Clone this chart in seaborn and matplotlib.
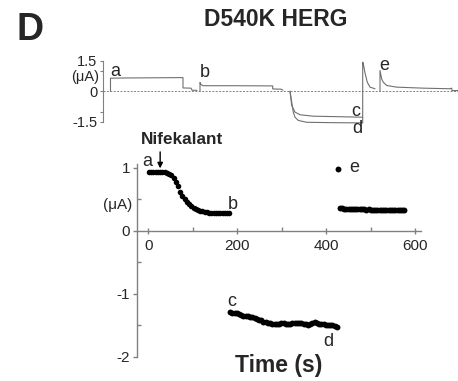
import matplotlib
matplotlib.use("Agg")
import matplotlib.pyplot as plt
import seaborn as sns
import numpy as np

sns.set_style("white")
plt.rcParams['font.family'] = ['Liberation Sans', 'DejaVu Sans']

# ---------------- data: time course (bottom panel) ----------------
seg1_t = [2, 7, 12, 17, 22, 27, 32, 37, 42, 47, 52, 57, 62, 67, 72, 77, 82, 87, 92, 97,
          102, 107, 112, 117, 122, 127, 132, 137, 142, 147, 152, 157, 162, 167, 172, 177, 182]
seg1_i = [0.93, 0.93, 0.93, 0.93, 0.93, 0.93, 0.93, 0.93, 0.92, 0.91, 0.89, 0.84, 0.77, 0.71,
          0.62, 0.55, 0.50, 0.46, 0.42, 0.395, 0.37, 0.35, 0.335, 0.32, 0.31, 0.30, 0.295,
          0.29, 0.287, 0.285, 0.283, 0.28, 0.28, 0.28, 0.278, 0.278, 0.278]

seg2_t = [184, 189, 194, 199, 204, 209, 214, 219, 224, 229, 234, 239, 244, 249, 254, 259,
          264, 269, 274, 279, 284, 289, 294, 299, 304, 309, 314, 319, 324, 329, 334, 339,
          344, 349, 354, 359, 364, 369, 374, 379, 384, 389, 394, 399, 404, 409, 414, 419, 424]
seg2_i = [-1.29, -1.30, -1.30, -1.31, -1.32, -1.33, -1.345, -1.35, -1.36, -1.37, -1.375,
          -1.39, -1.40, -1.41, -1.42, -1.44, -1.45, -1.465, -1.47, -1.48, -1.48, -1.475,
          -1.48, -1.47, -1.47, -1.48, -1.48, -1.475, -1.47, -1.465, -1.47, -1.47, -1.47,
          -1.48, -1.48, -1.49, -1.48, -1.47, -1.45, -1.46, -1.48, -1.48, -1.48, -1.49,
          -1.49, -1.50, -1.50, -1.51, -1.53]

seg3_t = [426, 430, 435, 440, 445, 450, 455, 460, 465, 470, 475, 480, 485, 490, 495, 500,
          505, 510, 515, 520, 525, 530, 535, 540, 545, 550, 555, 560, 565, 570, 575]
seg3_i = [0.98, 0.36, 0.36, 0.355, 0.355, 0.35, 0.35, 0.35, 0.35, 0.345, 0.345, 0.345, 0.345,
          0.34, 0.345, 0.34, 0.34, 0.34, 0.34, 0.335, 0.335, 0.335, 0.335, 0.335, 0.33,
          0.33, 0.33, 0.325, 0.33, 0.325, 0.325]

x_ticks = [0, 200, 400, 600]
y_ticks = [1, 0, -1, -2]

# ---------------- data: current traces (top panel) ----------------
trace_a_t = [7.5, 7.5, 20, 50, 80, 80, 88, 89, 94]
trace_a_i = [0, 0.64, 0.65, 0.66, 0.67, 0.16, 0.15, 0.05, 0.04]
trace_b_t = [97, 97, 98, 100, 130, 169.7, 169.7, 178, 180]
trace_b_i = [0, 0.43, 0.33, 0.27, 0.27, 0.26, 0.11, 0.10, 0.05]
trace_c_t = [187, 188.7, 192, 197, 210, 240, 259.7]
trace_c_i = [0, -0.70, -1.03, -1.16, -1.23, -1.26, -1.28]
trace_d_t = [187, 190.3, 192, 195.3, 203.7, 230, 259.7, 259.7, 260.3, 262, 264.3, 267, 272]
trace_d_i = [0, -1.03, -1.28, -1.44, -1.53, -1.55, -1.56, 1.43, 1.35, 0.90, 0.44, 0.20, 0.12]
trace_e_t = [277, 277, 278.7, 280.3, 283.7, 293.7, 320, 347, 348.7, 349, 355]
trace_e_i = [0, 1.02, 0.60, 0.44, 0.28, 0.20, 0.15, 0.12, 0.15, 0.03, 0.03]
top_yticks = [1.5, 0, -1.5]

W, H = 458, 381
fig = plt.figure(figsize=(W / 100, H / 100), dpi=100)

axis_gray = "#808080"
trace_gray = "#707070"

# ---------------- top panel (drawn first, transparent) ----------------
ax2 = fig.add_axes([103 / W, (H - 123.7) / H, 355 / W, 65 / H])
ax2.patch.set_alpha(0)
ax2.set_xlim(0, 355)
ax2.set_ylim(-1.6, 1.6)
for s in ["top", "right", "bottom"]:
    ax2.spines[s].set_visible(False)
ax2.spines["left"].set_bounds(-1.5, 1.5)
ax2.spines["left"].set_color(axis_gray)
ax2.spines["left"].set_linewidth(0.8)
ax2.set_xticks([])
ax2.set_yticks(top_yticks)
ax2.set_yticklabels(["1.5", "0", "-1.5"])
ax2.set_yticks([1.0, -1.0], minor=True)
ax2.tick_params(axis="y", which="major", direction="out", length=2, width=0.8,
                color=axis_gray, labelsize=10.5, pad=2, left=True)
ax2.tick_params(axis="y", which="minor", direction="out", length=2, width=0.8,
                color=axis_gray, left=True)
ax2.axhline(0, color=axis_gray, lw=0.7, ls=(0, (2, 1.5)), zorder=1)

for tt, ii in [(trace_a_t, trace_a_i), (trace_b_t, trace_b_i), (trace_c_t, trace_c_i),
               (trace_d_t, trace_d_i), (trace_e_t, trace_e_i)]:
    sns.lineplot(x=tt, y=ii, sort=False, estimator=None, color=trace_gray, lw=0.8, ax=ax2)

tl_kw = dict(fontsize=13, ha="center", va="center", clip_on=False)
ax2.text(12, 0.95, "a", **tl_kw)
ax2.text(102, 0.9, "b", **tl_kw)
ax2.text(253, -1.0, "c", **tl_kw)
ax2.text(254, -1.85, "d", **tl_kw)
ax2.text(281, 1.28, "e", **tl_kw)
ax2.text(-4, 0.72, "(\u03bcA)", fontsize=10.5, ha="right", va="center", clip_on=False)

# ---------------- bottom panel ----------------
ax = fig.add_axes([137 / W, 1 - 358 / H, 285 / W, (358 - 161.7) / H])
ax.patch.set_alpha(0)
ax.set_xlim(-25, 615)
ax.set_ylim(-2.02, 1.1)
for s in ["top", "right"]:
    ax.spines[s].set_visible(False)
ax.spines["bottom"].set_position(("data", 0))
ax.spines["bottom"].set_bounds(-25, 612)
ax.spines["left"].set_bounds(-2, 1.06)
for s in ["bottom", "left"]:
    ax.spines[s].set_color(axis_gray)
    ax.spines[s].set_linewidth(1.0)

sns.scatterplot(x=seg1_t, y=seg1_i, color="black", s=16, linewidth=0, ax=ax, zorder=3)
sns.scatterplot(x=seg2_t, y=seg2_i, color="black", s=18, linewidth=0, ax=ax, zorder=3)
sns.scatterplot(x=seg3_t, y=seg3_i, color="black", s=18, linewidth=0, ax=ax, zorder=3)

ax.set_xticks(x_ticks)
ax.set_xticklabels([str(v) for v in x_ticks])
ax.set_xticks([100, 300, 500], minor=True)
ax.set_yticks(y_ticks)
ax.set_yticklabels([str(v) for v in y_ticks])
ax.set_yticks([0.5, -0.5, -1.5], minor=True)
ax.tick_params(axis="x", which="major", direction="inout", length=5, width=1,
               color=axis_gray, labelsize=11, pad=3, bottom=True)
ax.tick_params(axis="x", which="minor", direction="in", length=3, width=1,
               color=axis_gray, bottom=True)
ax.tick_params(axis="y", which="major", direction="out", length=3, width=1,
               color=axis_gray, labelsize=11, pad=2, left=True)
ax.tick_params(axis="y", which="minor", direction="in", length=3, width=1,
               color=axis_gray, left=True)

lab_kw = dict(fontsize=13, ha="center", va="center", clip_on=False)
ax.text(-2, 1.11, "a", **lab_kw)
ax.text(190, 0.42, "b", **lab_kw)
ax.text(187, -1.12, "c", **lab_kw)
ax.text(404, -1.75, "d", **lab_kw)
ax.text(462, 1.0, "e", **lab_kw)
ax.text(-36, 0.41, "(\u03bcA)", fontsize=11, ha="right", va="center", clip_on=False)
ax.text(76, 1.45, "Nifekalant", fontsize=12.3, fontweight="bold", ha="center", va="center",
        clip_on=False)
ax.annotate("", xy=(27, 0.95), xytext=(27, 1.3),
            arrowprops=dict(arrowstyle="-|>", color="black", lw=1, mutation_scale=8),
            annotation_clip=False)
ax.text(294, -2.14, "Time (s)", fontsize=16.5, fontweight="bold", ha="center", va="center",
        clip_on=False)

# ---------------- titles ----------------
fig.text(30 / W, 1 - 30 / H, "D", fontsize=27, fontweight="bold", ha="center", va="center")
fig.text(276 / W, 1 - 19 / H, "D540K HERG", fontsize=16.5, fontweight="bold", ha="center",
         va="center")

fig.savefig("out.png", dpi=100)
